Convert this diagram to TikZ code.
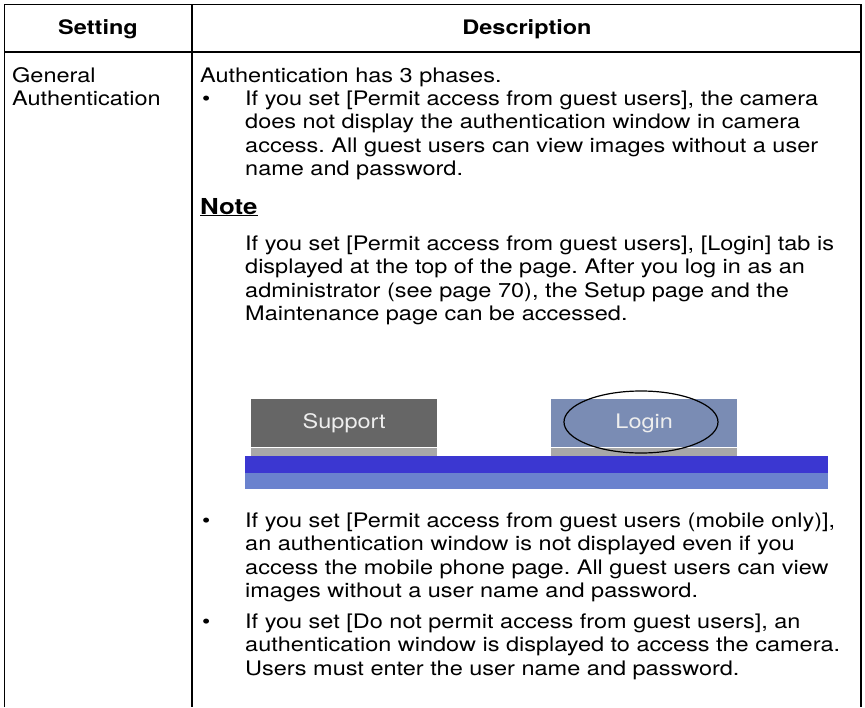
\documentclass[tikz,border=0pt]{standalone}
\usepackage{fontspec}
\setmainfont{TeX Gyre Heros}[FakeStretch=1.175]
\usetikzlibrary{positioning,shapes.geometric}

\definecolor{tabgray}{HTML}{666666}
\definecolor{tablogin}{HTML}{7A8CB4}
\definecolor{tabstrip}{HTML}{A8A8A8}
\definecolor{bardark}{HTML}{3B37D1}
\definecolor{barlight}{HTML}{6A82CE}
\definecolor{tabtext}{HTML}{EEEEEE}

\begin{document}
\frenchspacing
\begin{tikzpicture}[
        x=1pt, y=-1pt,
        rule/.style={line width=1.6pt},
        head/.style={inner sep=0pt, anchor=base, font=\bfseries\fontsize{20}{23.5}\selectfont},
        body/.style={inner sep=0pt, anchor=north west, align=left, font=\fontsize{20}{23.5}\selectfont},
        line/.style={inner sep=0pt, anchor=base west, font=\fontsize{20}{23.5}\selectfont},
        tab/.style={rectangle, minimum width=186pt, minimum height=48pt, inner sep=0pt, anchor=north west},
        strip/.style={rectangle, fill=tabstrip, minimum width=186pt, minimum height=9pt, inner sep=0pt},
        tablabel/.style={text=tabtext, font=\fontsize{20}{20}\selectfont}
    ]
    \useasboundingbox[fill=white] (0,0) rectangle (865,707);

    % Table frame
    \draw[rule] (4.5,707) -- (4.5,4.5) -- (861,4.5) -- (861,707);
    \draw[rule] (4.5,52) -- (861,52);
    \draw[rule] (192,4.5) -- (192,707);

    % Header
    \node[head] (setting) at (98,34) {Setting};
    \node[head] (descr) at (527,34) {Description};

    % Setting column
    \node[body] (general) at (12,67.2) {General\\Authentication};

    % Description column
    \node[line] (phases) at (200,82) {Authentication has 3 phases.};
    \node[line] (dotA) at (202,105) {\textbullet};
    \node[body] (guest) at (245,90.2) {If you set [Permit access from guest users], the camera\\
        does not display the authentication window in camera\\
        access. All guest users can view images without a user\\
        name and password.};

    % Note
    \node[line, font=\bfseries\fontsize{22}{24}\selectfont] (note) at (200,214) {\underline{Note}};
    \node[body] (notetext) at (245,235.2) {If you set [Permit access from guest users], [Login] tab is\\
        displayed at the top of the page. After you log in as an\\
        administrator (see page 70), the Setup page and the\\
        Maintenance page can be accessed.};

    % Tabs
    \node[tab, fill=tabgray] (support) at (251,399) {};
    \node[strip, below=0pt of support] (supportstrip) {};
    \node[tab, fill=tablogin] (login) at (551,399) {};
    \node[strip, below=0pt of login] (loginstrip) {};
    \fill[bardark] (245,456) rectangle (828,473);
    \fill[barlight] (245,473) rectangle (828,489);
    \node[tablabel] (supportlabel) at (support.center) {Support};
    \node[tablabel] (loginlabel) at (login.center) {Login};
    \node[draw, ellipse, line width=1.2pt, minimum width=154pt, minimum height=62pt] (loginring) at (641,422) {};

    % Mobile only
    \node[line] (dotB) at (202,527) {\textbullet};
    \node[body] (mobile) at (245,512.2) {If you set [Permit access from guest users (mobile only)],\\
        an authentication window is not displayed even if you\\
        access the mobile phone page. All guest users can view\\
        images without a user name and password.};

    % Do not permit
    \node[line] (dotC) at (202,628) {\textbullet};
    \node[body] (nopermit) at (245,613.2) {If you set [Do not permit access from guest users], an\\
        authentication window is displayed to access the camera.\\
        Users must enter the user name and password.};

\end{tikzpicture}
\end{document}
